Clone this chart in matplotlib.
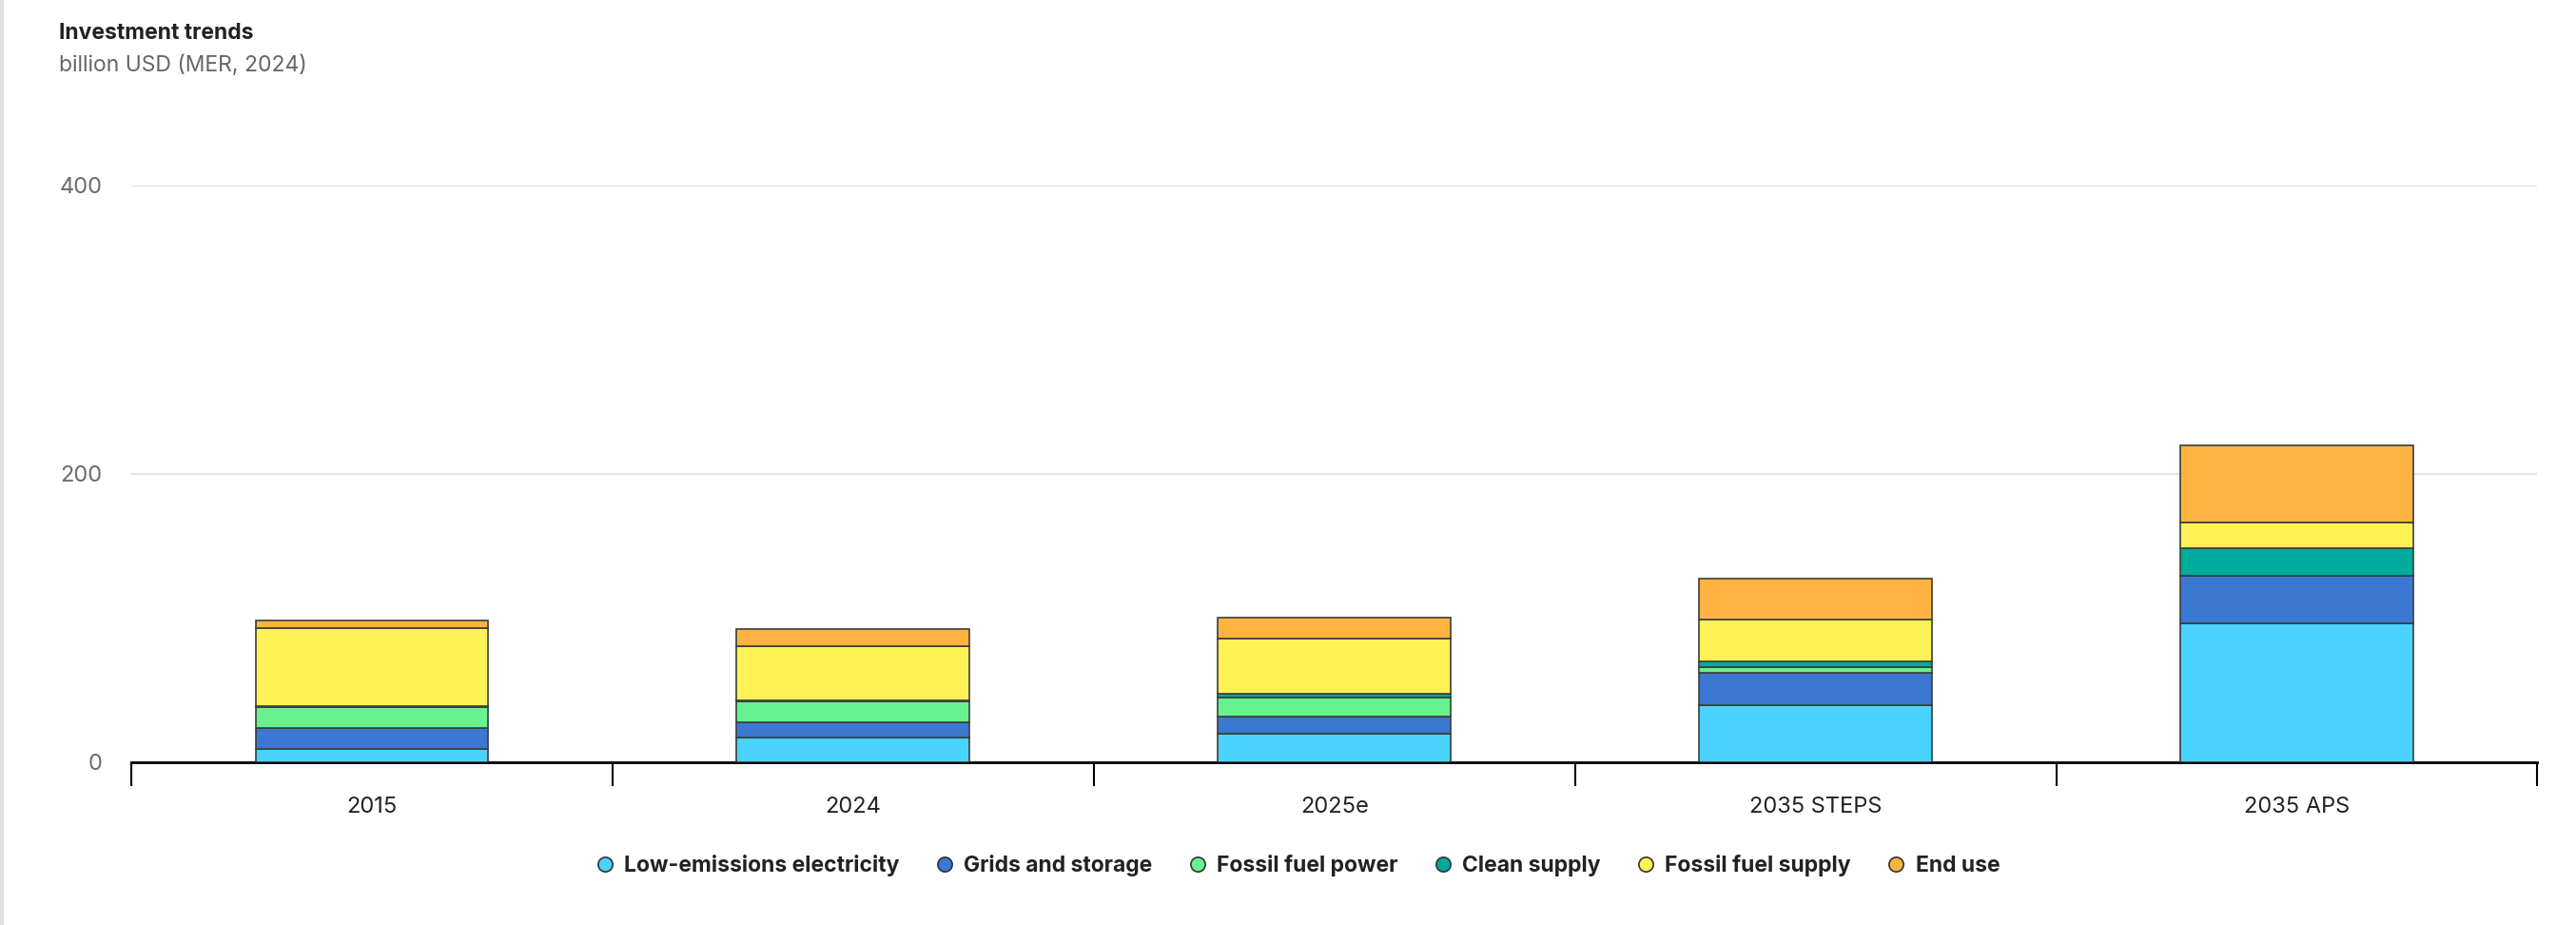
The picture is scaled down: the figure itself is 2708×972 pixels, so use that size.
import numpy as np
import matplotlib
matplotlib.use('Agg')
import matplotlib.pyplot as plt
from matplotlib.lines import Line2D

plt.rcParams['font.family'] = ['Inter', 'DejaVu Sans']

categories = ['2015', '2024', '2025e', '2035 STEPS', '2035 APS']
series = ['Low-emissions electricity', 'Grids and storage', 'Fossil fuel power',
          'Clean supply', 'Fossil fuel supply', 'End use']
low_emissions = [9.3, 17.0, 19.7, 39.5, 96.0]
grids_storage = [14.3, 10.8, 11.9, 22.6, 33.0]
fossil_power = [14.5, 14.3, 13.2, 4.0, 0.0]
clean_supply = [1.0, 1.0, 2.7, 3.9, 19.5]
fossil_supply = [54.0, 37.5, 38.4, 29.0, 17.5]
end_use = [5.3, 12.0, 14.6, 28.0, 53.5]
colors = ['#49d2fe', '#3b78d1', '#67f28f', '#00aa9c', '#fff257', '#ffb441']

values = [low_emissions, grids_storage, fossil_power, clean_supply, fossil_supply, end_use]

fig = plt.figure(figsize=(27.08, 9.72), dpi=100)
ax = fig.add_axes([0.051, 0.176, 0.934, 0.6236])

x = np.arange(len(categories))
bottom = np.zeros(len(categories))
for vals, col in zip(values, colors):
    vals = np.array(vals)
    ax.bar(x, vals, width=0.484, bottom=bottom, color=col, edgecolor='#3a3f3a',
           linewidth=1.2, zorder=3)
    bottom += vals

ax.set_xlim(-0.5, len(categories) - 0.5)
ax.set_ylim(0, 400)
ax.set_yticks([0, 200, 400])
ax.yaxis.grid(True, color='#e3e3e3', linewidth=1.5, zorder=0)
ax.tick_params(axis='y', length=0, pad=22, labelsize=17, labelcolor='#6b6b6b')
for s in ['top', 'right', 'left']:
    ax.spines[s].set_visible(False)
ax.spines['bottom'].set_color('black')
ax.spines['bottom'].set_linewidth(2)

# category ticks sit between the bars, labels at bar centres
ax.set_xticks(np.arange(len(categories) + 1) - 0.5)
ax.set_xticklabels([])
ax.set_xticks(x, minor=True)
ax.set_xticklabels(categories, minor=True)
ax.tick_params(axis='x', which='major', length=18, width=1.5, color='black')
ax.tick_params(axis='x', which='minor', length=0, pad=26, labelsize=17, labelcolor='#222222')

fig.text(0.023, 0.964, 'Investment trends', fontsize=16.5, fontweight='bold', color='#222222', va='center')
fig.text(0.023, 0.929, 'billion USD (MER, 2024)', fontsize=16.5, color='#666666', va='center')

handles = [Line2D([], [], marker='o', linestyle='none', markersize=11, markerfacecolor=c,
                  markeredgecolor='#333333', markeredgewidth=1.2) for c in colors]
fig.legend(handles, series, loc='center', bbox_to_anchor=(0.503, 0.064), ncol=6, frameon=False,
           prop={'size': 16.5, 'weight': 'bold'}, handletextpad=0.3, columnspacing=1.45,
           handlelength=1.2, labelcolor='#222222')

# page edge on the left
fig.add_artist(Line2D([0.0008, 0.0008], [0, 1], transform=fig.transFigure, color='#e0e0e0', linewidth=3))

plt.savefig('out.png', dpi=100)
